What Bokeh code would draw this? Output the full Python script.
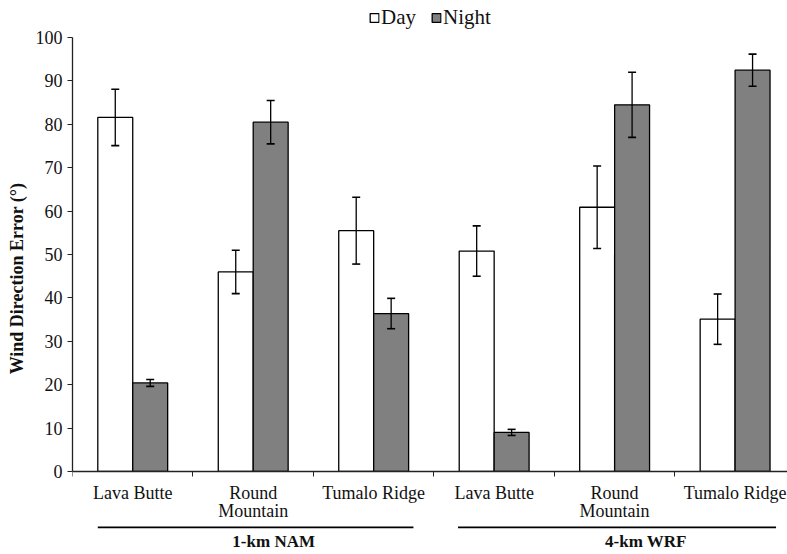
from bokeh.plotting import figure
from bokeh.models import (ColumnDataSource, Range1d, FixedTicker, Whisker, TeeHead,
                          Legend, LegendItem, LinearAxis)
from bokeh.core.properties import value
from bokeh.embed import file_html
from bokeh.resources import INLINE

sites = ["Lava Butte", "Round\nMountain", "Tumalo Ridge",
         "Lava Butte", "Round\nMountain", "Tumalo Ridge"]
models = ["1-km NAM", "4-km WRF"]
day = [81.6, 46.0, 55.5, 50.8, 60.9, 35.1]
day_err = [6.5, 5.0, 7.7, 5.8, 9.5, 5.8]
night = [20.4, 80.5, 36.4, 9.0, 84.5, 92.5]
night_err = [0.8, 5.0, 3.5, 0.7, 7.5, 3.7]
y_ticks = [0, 10, 20, 30, 40, 50, 60, 70, 80, 90, 100]

FONT = "Liberation Serif"
n = len(sites)
centers = [i + 0.5 for i in range(n)]
off = 0.145
bw = 0.29

src_day = ColumnDataSource(dict(x=[c - off for c in centers], top=day,
                                up=[v + e for v, e in zip(day, day_err)],
                                lo=[v - e for v, e in zip(day, day_err)]))
src_night = ColumnDataSource(dict(x=[c + off for c in centers], top=night,
                                  up=[v + e for v, e in zip(night, night_err)],
                                  lo=[v - e for v, e in zip(night, night_err)]))

p = figure(width=787, height=554,
           x_range=Range1d(0, 5.935), y_range=Range1d(-18.45, 107.4),
           x_axis_location=None,
           output_backend="svg", toolbar_location=None,
           min_border_left=72, min_border_right=0, min_border_top=5, min_border_bottom=3)
p.outline_line_color = None
p.grid.visible = False
p.background_fill_color = "white"
p.border_fill_color = "white"

r_day = p.vbar(x="x", top="top", width=bw, source=src_day, fill_color="white",
               line_color="black", line_width=1.3)
r_night = p.vbar(x="x", top="top", width=bw, source=src_night, fill_color="#808080",
                 line_color="black", line_width=1.3)

for s in (src_day, src_night):
    w = Whisker(base="x", upper="up", lower="lo", source=s, line_color="black", line_width=1.3,
                upper_head=TeeHead(size=8, line_width=1.6, line_color="black"),
                lower_head=TeeHead(size=8, line_width=1.6, line_color="black"),
                level="overlay")
    p.add_layout(w)

# x axis fixed at y = 0
xa = LinearAxis(fixed_location=0)
xa.ticker = FixedTicker(ticks=centers, minor_ticks=list(range(n)))
xa.major_label_overrides = {c: s for c, s in zip(centers, sites)}
xa.major_tick_out = 0
xa.major_tick_in = 0
xa.minor_tick_out = 5
xa.minor_tick_in = 0
xa.minor_tick_line_color = "#222222"
xa.axis_line_color = "#222222"
xa.axis_line_width = 1.3
xa.major_label_text_font = FONT
xa.major_label_text_font_size = "18px"
xa.major_label_text_color = "#111111"
xa.major_label_text_line_height = 0.9
xa.major_label_standoff = 7
p.add_layout(xa, "below")

ya = p.yaxis[0]
ya.ticker = FixedTicker(ticks=y_ticks)
ya.bounds = (0, 100)
ya.major_tick_out = 5
ya.major_tick_in = 0
ya.minor_tick_out = 0
ya.minor_tick_in = 0
ya.axis_line_color = "#222222"
ya.axis_line_width = 1.3
ya.major_tick_line_color = "#222222"
ya.major_label_text_font = FONT
ya.major_label_text_font_size = "18px"
ya.major_label_text_color = "#111111"
ya.major_label_standoff = 5
ya.axis_label = "Wind Direction Error (°)"
ya.axis_label_text_font = FONT
ya.axis_label_text_font_size = "18px"
ya.axis_label_text_font_style = "bold"
ya.axis_label_text_color = "#111111"
ya.axis_label_standoff = 6

# group labels and underlines
grp_line_x0 = [0.21, 3.20]
grp_line_x1 = [2.83, 5.84]
grp_label_x = [1.67, 4.76]
grp_line_y = -12.9
grp_label_y = -16.2
p.segment(x0=grp_line_x0, x1=grp_line_x1, y0=[grp_line_y] * 2, y1=[grp_line_y] * 2,
          line_color="black", line_width=1.6)
p.text(x=grp_label_x, y=[grp_label_y] * 2, text=models, text_align="center",
       text_baseline="middle", text_font=value(FONT), text_font_size="17px",
       text_font_style="bold", text_color="#111111")

legend = Legend(items=[LegendItem(label="Day", renderers=[r_day]),
                       LegendItem(label="Night", renderers=[r_night])],
                orientation="horizontal", location="top_center",
                label_text_font=FONT, label_text_font_size="21px", label_text_color="#111111",
                glyph_width=11, glyph_height=11, label_standoff=2, spacing=14,
                border_line_color=None, background_fill_alpha=0, padding=1, margin=0)
p.add_layout(legend)

open("out.html", "w").write(file_html(p, INLINE))
